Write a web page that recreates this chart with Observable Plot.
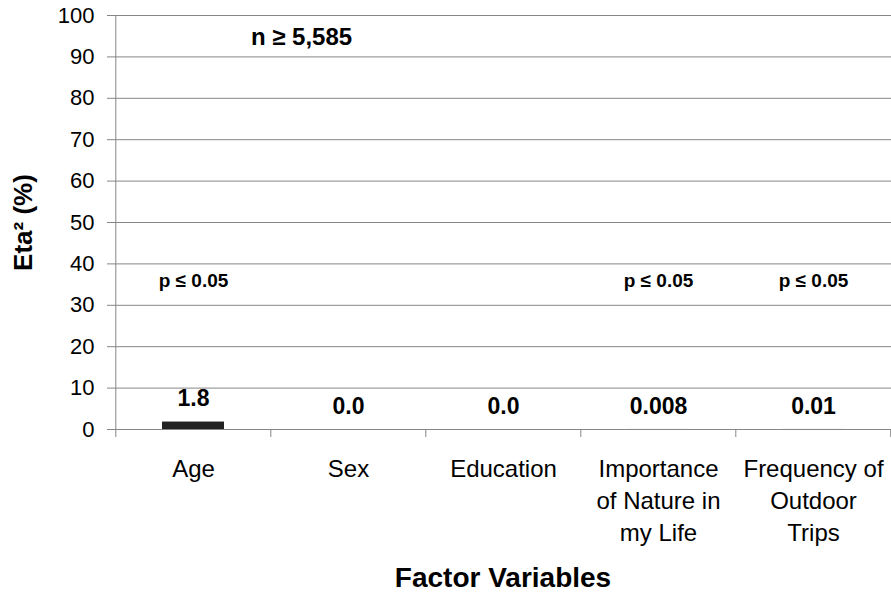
<!DOCTYPE html>
<html>
<head>
<meta charset="utf-8">
<script src="https://cdn.jsdelivr.net/npm/d3@7"></script>
<script src="https://cdn.jsdelivr.net/npm/@observablehq/plot@0.6"></script>
<style>
  html, body { margin: 0; padding: 0; background: #fff; }
  #chart { width: 891px; height: 594px; }
  svg { font-family: "Liberation Sans", Arial, sans-serif; }
</style>
</head>
<body>
<div id="chart"></div>
<script>
const categories = ["Age", "Sex", "Education", "Importance", "Frequency"];
const categoryLabels = ["Age", "Sex", "Education", "Importance\nof Nature in\nmy Life", "Frequency of\nOutdoor\nTrips"];
const values = [1.8, 0.0, 0.0, 0.008, 0.01];
const valueLabels = ["1.8", "0.0", "0.0", "0.008", "0.01"];
const pCategories = ["Age", "Importance", "Frequency"];
const pLabel = "p \u2264 0.05";
const pLabelY = 35.8;
const yTicks = [0, 10, 20, 30, 40, 50, 60, 70, 80, 90, 100];
const nLabel = "n \u2265 5,585";
const xTitle = "Factor Variables";
const yTitle = "Eta\u00B2 (%)";

const W = 891, H = 594;
const mL = 114, mR = 0, mT = 15, mB = 165;
const step = (W - mL - mR) / categories.length;

const data = categories.map((c, i) => ({cat: c, value: values[i], label: valueLabels[i]}));
const pData = pCategories.map(c => ({cat: c, y: pLabelY}));
const labelOf = new Map(categories.map((c, i) => [c, categoryLabels[i]]));

const grid = "#868686";

const chart = Plot.plot({
  width: W,
  height: H,
  marginLeft: mL,
  marginRight: mR,
  marginTop: mT,
  marginBottom: mB,
  style: {fontFamily: "'Liberation Sans', Arial, sans-serif", background: "#fff", color: "#000"},
  x: {domain: categories, paddingInner: 0.6, paddingOuter: 0.3, label: null},
  y: {domain: [0, 100], label: null},
  marks: [
    Plot.ruleY(yTicks.filter(t => t > 0), {y: d => d, stroke: grid, strokeWidth: 1, strokeOpacity: 1}),
    Plot.axisY({ticks: yTicks, tickSize: 7, tickPadding: 13, fontSize: 22, stroke: grid, strokeOpacity: 1, label: null, color: "#000"}),
    Plot.ruleY([0], {stroke: grid, insetLeft: -7}),
    Plot.ruleX([categories[0]], {x: d => d, y1: 0, y2: 100, dx: -step / 2, stroke: grid}),
    Plot.ruleX(categories, {x: d => d, y1: 0, y2: 0, dx: -step / 2, insetBottom: -8, stroke: grid}),
    Plot.ruleX([categories[categories.length - 1]], {x: d => d, y1: 0, y2: 0, dx: step / 2 - 0.5, insetBottom: -8, stroke: grid}),
    Plot.barY(data, {x: "cat", y: "value", fill: "#222222"}),
    Plot.text(data, {x: "cat", y: "value", text: "label", dy: -23, fontSize: 23, fontWeight: "bold", fill: "#000"}),
    Plot.text(pData, {x: "cat", y: "y", text: () => pLabel, fontSize: 19, fontWeight: "bold", fill: "#000"}),
    Plot.text([nLabel], {frameAnchor: "top-left", textAnchor: "middle", dx: 187, dy: 12, fontSize: 24, fontWeight: "bold", fill: "#000"}),
    Plot.axisX({tickSize: 0, tickPadding: 25, fontSize: 24, lineHeight: 1.333, tickFormat: d => labelOf.get(d), label: null, color: "#000"}),
    Plot.text([xTitle], {frameAnchor: "bottom", dy: 157, fontSize: 28, fontWeight: "bold", fill: "#000"}),
    Plot.text([yTitle], {frameAnchor: "left", textAnchor: "middle", dx: -91, rotate: -90, fontSize: 26, fontWeight: "bold", fill: "#000"})
  ]
});
document.getElementById("chart").appendChild(chart);
</script>
</body>
</html>
